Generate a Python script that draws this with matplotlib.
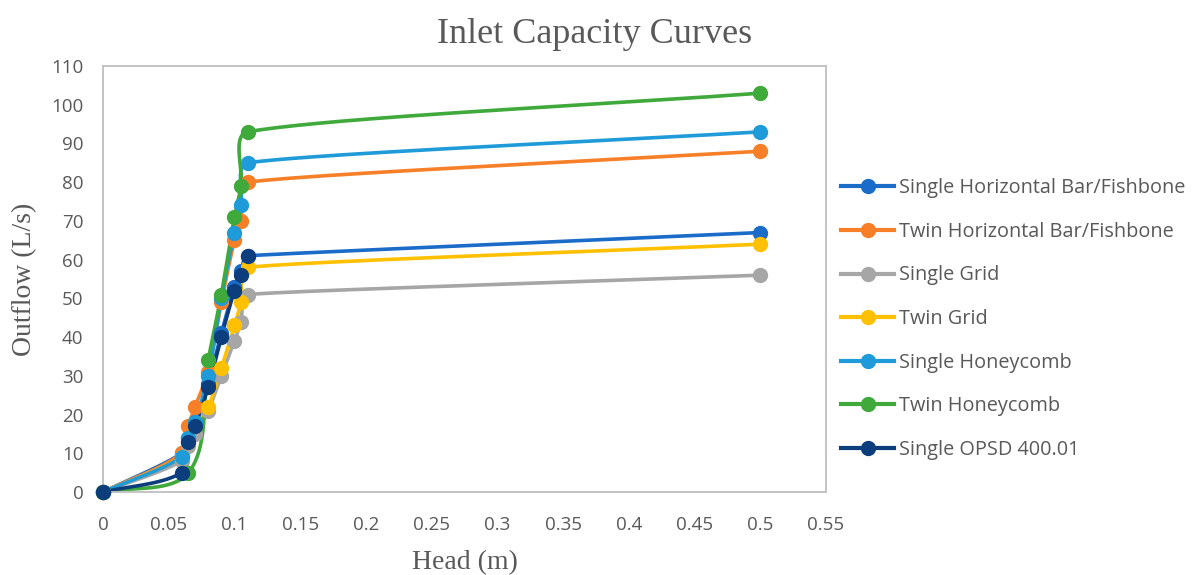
import numpy as np
import matplotlib
matplotlib.use('Agg')
import matplotlib.pyplot as plt
from matplotlib.lines import Line2D


# head (m) and outflow (L/s) for each inlet
series_names = ['Single Horizontal Bar/Fishbone', 'Twin Horizontal Bar/Fishbone',
                'Single Grid', 'Twin Grid', 'Single Honeycomb', 'Twin Honeycomb',
                'Single OPSD 400.01']
series_colors = ['#1B6BC8', '#F67F28', '#A6A6A6', '#FFC000', '#1E9BD8', '#3FA93B', '#0C3D7C']

head_sh = [0, 0.06, 0.065, 0.07, 0.08, 0.09, 0.1, 0.105, 0.11, 0.5]
flow_sh = [0, 10, 14, 18, 28, 41, 53, 57, 61, 67]

head_th = [0, 0.06, 0.065, 0.07, 0.08, 0.09, 0.1, 0.105, 0.11, 0.5]
flow_th = [0, 10, 17, 22, 31, 49, 65, 70, 80, 88]

head_sg = [0, 0.06, 0.065, 0.07, 0.08, 0.09, 0.1, 0.105, 0.11, 0.5]
flow_sg = [0, 8, 12, 15, 21, 30, 39, 44, 51, 56]

head_tg = [0, 0.06, 0.065, 0.07, 0.08, 0.09, 0.1, 0.105, 0.11, 0.5]
flow_tg = [0, 9, 13, 17, 22, 32, 43, 49, 58, 64]

head_shc = [0, 0.06, 0.065, 0.07, 0.08, 0.09, 0.1, 0.105, 0.11, 0.5]
flow_shc = [0, 9, 14, 18, 30, 50, 67, 74, 85, 93]

head_thc = [0, 0.065, 0.08, 0.09, 0.1, 0.105, 0.11, 0.5]
flow_thc = [0, 5, 34, 51, 71, 79, 93, 103]

head_opsd = [0, 0.06, 0.065, 0.07, 0.08, 0.09, 0.1, 0.105, 0.11]
flow_opsd = [0, 5, 13, 17, 27, 40, 52, 56, 61]

all_heads = [head_sh, head_th, head_sg, head_tg, head_shc, head_thc, head_opsd]
all_flows = [flow_sh, flow_th, flow_sg, flow_tg, flow_shc, flow_thc, flow_opsd]

x_ticks = [0, 0.05, 0.1, 0.15, 0.2, 0.25, 0.3, 0.35, 0.4, 0.45, 0.5, 0.55]
x_tick_labels = ['0', '0.05', '0.1', '0.15', '0.2', '0.25', '0.3', '0.35', '0.4', '0.45', '0.5', '0.55']
y_ticks = list(range(0, 111, 10))

TEXT = '#595959'


def smooth_curve(ax, xs, ys, steps=40, tension=0.3, reach=5.0):
    # smoothed line through the points: bezier segments in screen space.
    # handle length is capped by a multiple of the neighbouring segment so the
    # long flat tails only bow a little near the knee
    pts = ax.transData.transform(np.column_stack([xs, ys]))
    n = len(pts)
    lens = np.hypot(*(pts[1:] - pts[:-1]).T)
    out = [pts[0]]
    t = np.linspace(0, 1, steps)[1:, None]

    def unit(v):
        d = np.hypot(*v)
        return v / d if d > 0 else v

    for i in range(n - 1):
        p0 = pts[i - 1] if i > 0 else pts[i]
        p1 = pts[i]
        p2 = pts[i + 1]
        p3 = pts[i + 2] if i + 2 < n else pts[i + 1]
        h1 = min(lens[i], reach * lens[i - 1]) if i > 0 else lens[i]
        h2 = min(lens[i], reach * lens[i + 1]) if i + 1 < n - 1 else lens[i]
        c1 = p1 + unit(p2 - p0) * h1 * tension
        c2 = p2 - unit(p3 - p1) * h2 * tension
        seg = ((1 - t) ** 3) * p1 + 3 * ((1 - t) ** 2) * t * c1 + 3 * (1 - t) * t ** 2 * c2 + t ** 3 * p2
        out.extend(seg)
    out = np.array(out)
    return ax.transData.inverted().transform(out)


fig = plt.figure(figsize=(11.95, 5.75), dpi=100)
ax = fig.add_axes([0.0862, 0.1443, 0.6050, 0.7409])
ax.set_xlim(0, 0.55)
ax.set_ylim(0, 110)

for xs, ys, color in zip(all_heads, all_flows, series_colors):
    curve = smooth_curve(ax, xs, ys)
    ax.plot(curve[:, 0], curve[:, 1], color=color, linewidth=2.6, solid_capstyle='round',
            clip_on=False, zorder=2)
    ax.plot(xs, ys, 'o', color=color, markersize=10, clip_on=False, zorder=3)

for side in ['top', 'right', 'bottom', 'left']:
    ax.spines[side].set_color('#BFBFBF')
    ax.spines[side].set_linewidth(1.3)

ax.set_xticks(x_ticks)
ax.set_xticklabels(x_tick_labels)
ax.set_yticks(y_ticks)
ax.tick_params(length=0, labelsize=13.5, labelcolor=TEXT)
ax.tick_params(axis='x', pad=17)
ax.tick_params(axis='y', pad=14)
for lbl in ax.get_xticklabels() + ax.get_yticklabels():
    lbl.set_family(['Open Sans', 'DejaVu Sans'])

serif = ['Liberation Serif', 'DejaVu Serif']
fig.text(0.4979, 0.94, 'Inlet Capacity Curves', ha='center', va='center',
         fontsize=26, color=TEXT, family=serif)
ax.set_xlabel('Head (m)', fontsize=20, color=TEXT, family=serif, labelpad=12)
ax.set_ylabel('Outflow (L/s)', fontsize=20, color=TEXT, family=serif, labelpad=10)

handles = [Line2D([0], [0], color=c, linewidth=3, marker='o', markersize=10)
           for c in series_colors]
leg = fig.legend(handles, series_names, loc='center left', bbox_to_anchor=(0.689, 0.445),
                 frameon=False, handlelength=2.65, handletextpad=0.25, labelspacing=1.19,
                 prop={'family': ['Open Sans', 'DejaVu Sans'], 'size': 14.3})
for txt in leg.get_texts():
    txt.set_color(TEXT)

fig.savefig('out.png', dpi=100, facecolor='white')
